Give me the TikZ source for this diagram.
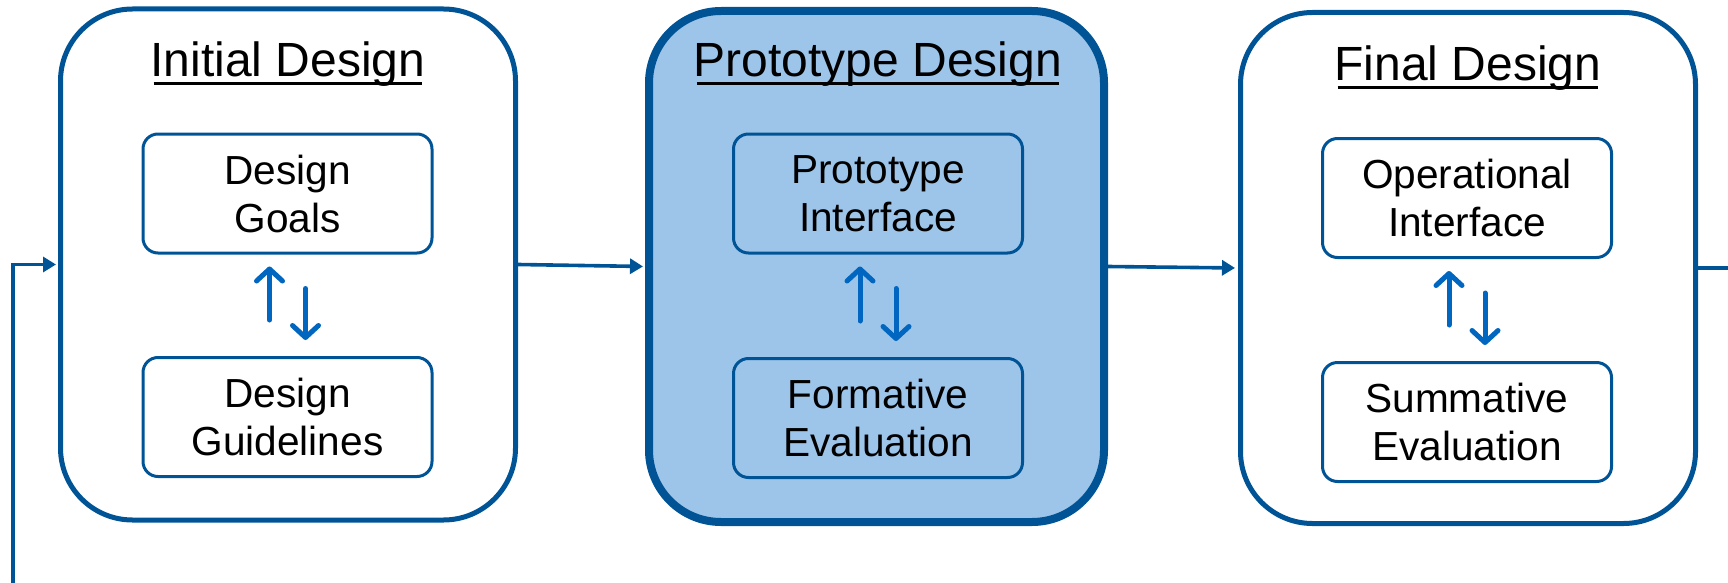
\documentclass[tikz,border=0pt]{standalone}
\usepackage{fontspec}
\setmainfont{Liberation Sans}
\usetikzlibrary{arrows.meta}
\definecolor{stageblue}{RGB}{0,84,150}
\definecolor{stagefill}{RGB}{157,197,233}
\definecolor{swapblue}{RGB}{0,102,192}
\newcommand{\titlerule}[1]{\leavevmode\setbox0\hbox{#1}\dp0=0pt\vtop{\hbox{\kern-1.5pt\box0\kern-1.5pt}\kern2.6pt\hrule height 1.4pt}}
\tikzset{
  stage/.style={draw=stageblue, line width=2.5pt, rounded corners=36pt, minimum width=227.5pt, minimum height=255.5pt},
  part/.style={draw=stageblue, line width=1.5pt, rounded corners=7.5pt, minimum width=144.5pt, minimum height=59.5pt, align=center, font=\fontsize{20.3}{24}\selectfont},
  heading/.style={anchor=base, inner sep=0pt, font=\fontsize{24}{28}\selectfont},
  flow/.style={draw=stageblue, line width=1.8pt, -{Triangle[length=6.5pt,width=7.5pt]}},
  swap/.style={draw=swapblue, line width=2.5pt, line cap=round, -{Straight Barb[length=6pt,width=13pt,line cap=round,line join=round]}}
}
\begin{document}
\begin{tikzpicture}[x=0.5pt,y=-0.5pt]
  \useasboundingbox (0,0) rectangle (1728,583);
  % the three stages
  \node[stage] (initial) at (288,264.5) {};
  \node[stage, fill=stagefill, line width=4pt] (proto) at (876.5,266.5) {};
  \node[stage] (final) at (1468,268) {};
  \node[heading] (initialtitle) at (288,77) {\titlerule{Initial Design}};
  \node[heading] (prototitle) at (878,77) {\titlerule{Prototype Design}};
  \node[heading] (finaltitle) at (1468,81) {\titlerule{Final Design}};
  % inner steps
  \node[part] (goals) at (287.5,193.5) {Design\\Goals};
  \node[part] (guide) at (287.5,417) {Design\\Guidelines};
  \node[part] (iface) at (878,193.5) {Prototype\\Interface};
  \node[part] (formative) at (878,418) {Formative\\Evaluation};
  \node[part] (opiface) at (1467,198) {Operational\\Interface};
  \node[part] (summative) at (1467,422) {Summative\\Evaluation};
  % up and down arrows inside each stage
  \foreach \upper/\lower in {goals/guide, iface/formative, opiface/summative}{
    \draw[swap] ([xshift=-9pt,yshift=18pt]\lower.north) -- ([xshift=-9pt,yshift=-6pt]\upper.south);
    \draw[swap] ([xshift=9pt,yshift=-17pt]\upper.south) -- ([xshift=9pt,yshift=8pt]\lower.north);
  }
  % flow between stages
  \coordinate (loopstart) at (13,583);
  \coordinate (exit) at (1728,268);
  \draw[flow, shorten >=1pt] (initial.east) -- (proto.west);
  \draw[flow, shorten >=1.5pt] (proto.east) -- (final.west);
  \draw[draw=stageblue, line width=1.8pt] (final.east) -- (exit);
  \draw[flow, shorten >=1pt] (loopstart) |- (initial.west);
\end{tikzpicture}
\end{document}
